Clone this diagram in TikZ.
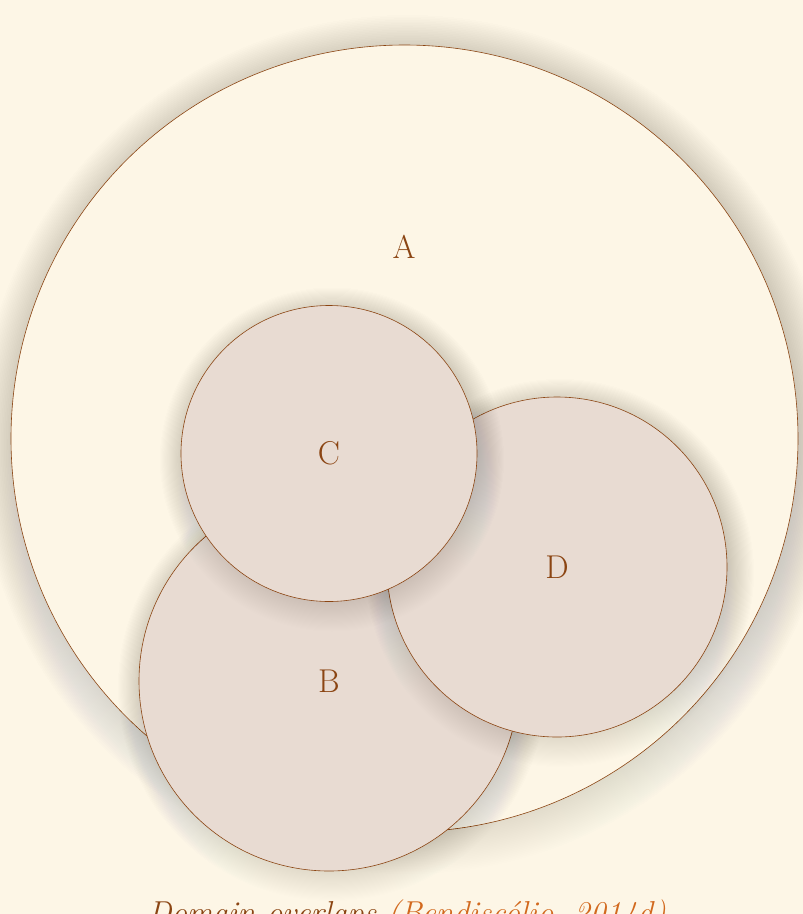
\documentclass[tikz,border=0pt]{standalone}
\usepackage{fontspec}
\usepackage{xcolor}
\usepackage{tikz}
\usetikzlibrary{positioning,calc}
\definecolor{paper}{HTML}{FDF6E6}
\definecolor{inkbrown}{HTML}{8B4513}
\definecolor{citeor}{HTML}{D2691E}
\definecolor{blob}{HTML}{E8DBD2}
\definecolor{shade}{HTML}{5A4E3E}

% soft drop shadow: stacked discs round a coordinate
\newcommand{\domshadow}[3]{%
  \foreach \k in {1,...,30}{%
    \fill[shade,opacity=0.003] ($(#1)+(3,6)$) circle ({#2+(\k-8)*#3/22});}}

\begin{document}
\begin{tikzpicture}[x=1pt,y=-1pt,
  dom/.style={circle,draw=inkbrown,line width=0.6pt,inner sep=0pt,
              font=\fontsize{33}{40}\selectfont,text=inkbrown},
  big/.style={dom,fill=paper},
  sub/.style={dom,fill=blob},
  lbl/.style={font=\fontsize{33}{40}\selectfont,text=inkbrown,inner sep=0pt}
]
\fill[paper] (0,0) rectangle (803,914);
\useasboundingbox (0,0) rectangle (803,914);
\coordinate (cA) at (404.5,438.5);
\coordinate (cB) at (329,681);
\coordinate (cD) at (557,567);
\coordinate (cC) at (329,453.5);
% outer domain, then the three inner ones
\domshadow{cA}{393.5}{36}
\node[big,minimum size=787pt] (A) at (cA) {};
\node[lbl] (labA) at (404,247) {A};
\domshadow{cB}{190}{24}
\node[sub,minimum size=380pt] (B) at (cB) {B};
\domshadow{cD}{170}{24}
\node[sub,minimum size=340pt] (D) at (cD) {D};
\domshadow{cC}{148}{24}
\node[sub,minimum size=296pt] (C) at (cC) {C};
% caption
\node[anchor=base,font=\fontsize{31.7}{38}\selectfont\itshape,text=inkbrown,inner sep=0pt]
  (cap) at (407,923) {Domain overlaps \textcolor{citeor}{(Bendiscólio, 2014d)}};
\end{tikzpicture}
\end{document}
